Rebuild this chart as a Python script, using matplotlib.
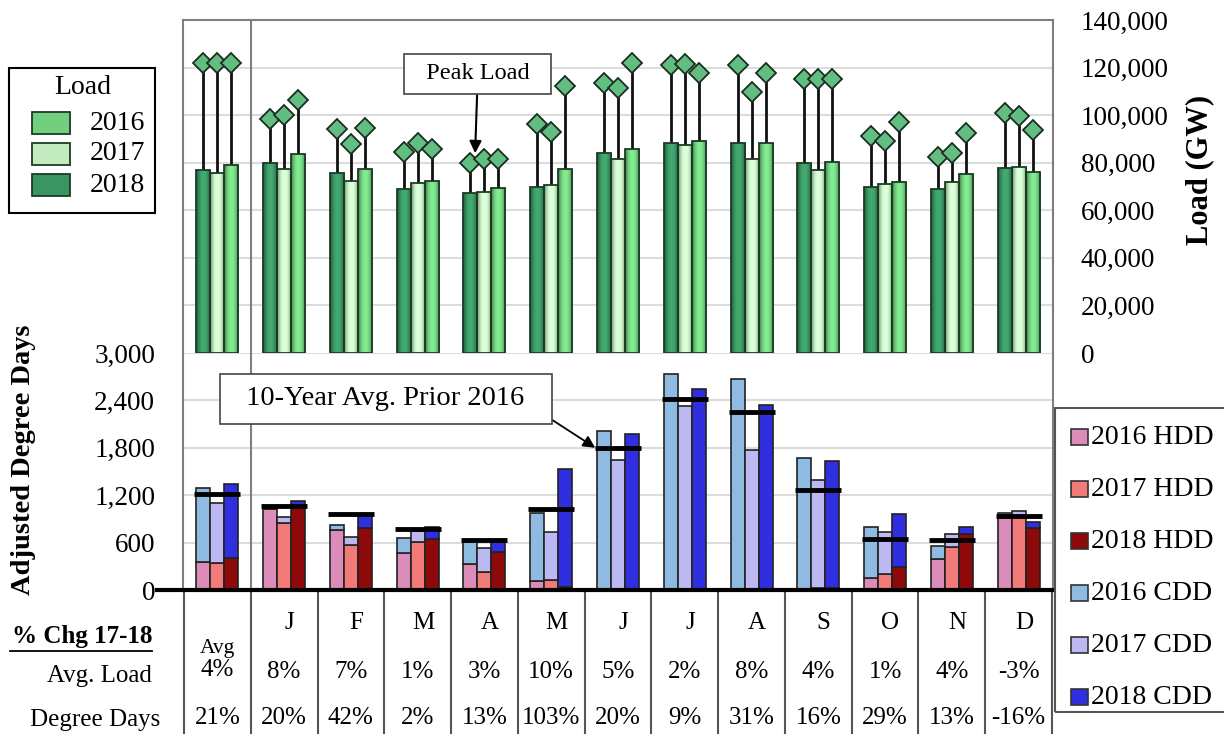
import matplotlib
matplotlib.use("Agg")
import matplotlib.pyplot as plt
from matplotlib.patches import Rectangle
from matplotlib.colors import to_rgb
import numpy as np

plt.rcParams["font.family"] = ["Liberation Serif", "DejaVu Serif"]

groups = ["Avg", "J", "F", "M", "A", "M", "J", "J", "A", "S", "O", "N", "D"]

# average load (GW), bar order left to right in each group
load_a = [76900, 79900, 75700, 68900, 67300, 69800, 84100, 88300, 88300, 79900, 69800, 68900, 77800]
load_b = [75700, 77400, 72300, 71500, 67700, 70600, 81500, 87500, 81600, 76900, 71000, 71900, 78200]
load_c = [79000, 83700, 77400, 72300, 69400, 77400, 85800, 89100, 88300, 80300, 71900, 75300, 76100]

# peak load (GW)
peak_a = [121900, 98400, 94200, 84500, 79900, 96300, 113500, 121100, 121100, 115200, 91200, 82400, 100900]
peak_b = [121900, 100000, 87900, 88300, 81600, 92900, 111400, 121500, 109700, 115200, 89100, 84100, 99600]
peak_c = [122000, 106400, 94600, 85800, 81600, 112200, 121900, 117700, 117700, 115200, 97100, 92500, 93700]

# adjusted degree days
hdd_2016 = [355, 1020, 760, 469, 330, 114, 10, 0, 0, 10, 152, 393, 913]
hdd_2017 = [342, 850, 570, 609, 228, 127, 10, 0, 0, 20, 203, 545, 938]
hdd_2018 = [406, 1065, 786, 647, 482, 38, 0, 0, 0, 20, 292, 710, 786]
cdd_2016 = [938, 20, 64, 190, 279, 862, 2006, 2739, 2675, 1664, 647, 165, 63]
cdd_2017 = [761, 75, 102, 139, 304, 608, 1638, 2333, 1775, 1375, 532, 165, 63]
cdd_2018 = [938, 65, 152, 152, 127, 1496, 1978, 2549, 2346, 1616, 672, 89, 76]
ten_year_avg = [1217, 1065, 964, 773, 634, 1027, 1800, 2422, 2257, 1268, 647, 634, 938]

load_chg = ["4%", "8%", "7%", "1%", "3%", "10%", "5%", "2%", "8%", "4%", "1%", "4%", "-3%"]
dd_chg = ["21%", "20%", "42%", "2%", "13%", "103%", "20%", "9%", "31%", "16%", "29%", "13%", "-16%"]

W, H = 1224, 736
fig = plt.figure(figsize=(W / 100, H / 100), dpi=100)


def fx(px):
    return px / W


def fy(py):
    return 1 - py / H


def shade(ax, bars, color):
    # dark edges, lighter middle, like the gradient fill of the original
    t = np.linspace(0, 1, 32)
    k = 0.55 + 0.6 * np.sin(np.pi * t) ** 0.8
    rgb = np.clip(np.array(to_rgb(color))[None, :] * k[:, None], 0, 1)
    arr = rgb[None, :, :]
    for b in bars:
        x0, y0, w, h = b.get_x(), b.get_y(), b.get_width(), b.get_height()
        im = ax.imshow(arr, extent=[x0, x0 + w, y0, y0 + h], aspect="auto",
                       interpolation="bilinear", zorder=3.2)
        im.set_clip_path(b)


x = np.arange(len(groups))
bw = 0.21
offs = [-bw, 0, bw]
grid_c = "#dcdcdc"
frame_c = "#7f7f7f"

# ---------------- top: load ----------------
ax_top = fig.add_axes([fx(183), fy(353), fx(1053) - fx(183), fy(20) - fy(353)])
for yv in range(20000, 140001, 20000):
    ax_top.axhline(yv, color=grid_c, lw=1.5, zorder=0)
for s in ["top", "left", "right"]:
    ax_top.spines[s].set_color(frame_c)
    ax_top.spines[s].set_linewidth(1.5)
ax_top.spines["bottom"].set_visible(False)
ax_top.axvline(0.5, color=frame_c, lw=1.5)

load_cols = ["#3a9563", "#c2ebc0", "#72cf7e"]
for i, (lv, pv) in enumerate([(load_a, peak_a), (load_b, peak_b), (load_c, peak_c)]):
    xi = x + offs[i]
    bars = ax_top.bar(xi, lv, width=bw, color=load_cols[i], lw=0, zorder=3)
    shade(ax_top, bars, load_cols[i])
    ax_top.bar(xi, lv, width=bw, fill=False, edgecolor="#1c3b25", lw=1.3, zorder=3.4)
    ax_top.vlines(xi, lv, pv, color="#111111", lw=2, zorder=2)
    ax_top.plot(xi, pv, ls="none", marker="D", ms=10, mfc="#62bd80", mec="#1a2e20", mew=1.3, zorder=4)

ax_top.set_xlim(-0.515, 12.515)
ax_top.set_ylim(0, 140000)
ax_top.set_yticks(np.arange(0, 140001, 20000))
ax_top.set_yticklabels([f"{v:,}" for v in range(0, 140001, 20000)])
ax_top.yaxis.tick_right()
ax_top.tick_params(axis="y", length=0, pad=20, labelsize=19.5)
ax_top.set_xticks([])

ax_top.annotate("  Peak Load  ", xy=(3.86, 84000), xytext=(3.9, 117300),
                ha="center", va="center", fontsize=17.5,
                bbox=dict(boxstyle="square,pad=0.4", fc="white", ec="#444444", lw=1.2),
                arrowprops=dict(arrowstyle="-|>", color="black", lw=1.5, mutation_scale=18,
                                shrinkA=0, shrinkB=0))
fig.text(fx(1200), fy(170), "Load (GW)", rotation=90, ha="center", va="center",
         fontsize=22, fontweight="bold")

# ---------------- bottom: degree days ----------------
ax_bot = fig.add_axes([fx(183), fy(590), fx(1053) - fx(183), fy(353) - fy(590)])
for yv in range(600, 3001, 600):
    ax_bot.axhline(yv, color=grid_c, lw=1.5, zorder=0)
for s in ["left", "right"]:
    ax_bot.spines[s].set_color(frame_c)
    ax_bot.spines[s].set_linewidth(1.5)
ax_bot.spines["top"].set_visible(False)
ax_bot.spines["bottom"].set_visible(False)
ax_bot.axvline(0.5, color=frame_c, lw=1.5)

hdd_cols = ["#dc8cb8", "#f27a78", "#8e0a0a"]
cdd_cols = ["#8fbbe3", "#bcb9f2", "#2f2fe0"]
for i, (hv, cv) in enumerate([(hdd_2016, cdd_2016), (hdd_2017, cdd_2017), (hdd_2018, cdd_2018)]):
    xi = x + offs[i]
    ax_bot.bar(xi, hv, width=bw, color=hdd_cols[i], edgecolor="#222222", lw=1.2, zorder=3)
    ax_bot.bar(xi, cv, bottom=hv, width=bw, color=cdd_cols[i], edgecolor="#222222", lw=1.2, zorder=3)
ax_bot.hlines(ten_year_avg, x - 0.345, x + 0.345, color="black", lw=3.5, zorder=5)

ax_bot.set_xlim(-0.515, 12.515)
ax_bot.set_ylim(0, 3000)
ax_bot.set_yticks(np.arange(0, 3001, 600))
ax_bot.set_yticklabels([f"{v:,}" for v in range(0, 3001, 600)])
ax_bot.tick_params(axis="y", length=0, pad=20, labelsize=19.5)
ax_bot.set_xticks([])

ax_bot.annotate("  10-Year Avg. Prior 2016  ", xy=(5.66, 1800), xytext=(2.52, 2420),
                ha="center", va="center", fontsize=20.5,
                bbox=dict(boxstyle="square,pad=0.45", fc="white", ec="#444444", lw=1.2),
                arrowprops=dict(arrowstyle="-|>", color="black", lw=1.3, mutation_scale=18,
                                relpos=(1.0, 0.0), shrinkA=0, shrinkB=0))

fig.text(fx(24), fy(460), "Adjusted Degree Days", rotation=90, ha="center", va="center",
         fontsize=20.5, fontweight="bold")

# zero line and table
ax_bot.plot([-0.03, 1.0], [0, 0], color="black", lw=3, transform=ax_bot.get_yaxis_transform(),
            clip_on=False, zorder=6)
tr = ax_bot.get_xaxis_transform()


def ay(py):
    return (590 - py) / 237


for k in range(len(groups) + 1):
    ax_bot.plot([k - 0.5, k - 0.5], [0, ay(733)], color="#555555", lw=1.5, transform=tr, clip_on=False)

for k, g in enumerate(groups):
    if k == 0:
        ax_bot.text(k, ay(648), "Avg", transform=tr, ha="center", va="center", fontsize=15.5)
        ax_bot.text(k, ay(670), load_chg[k], transform=tr, ha="center", va="center", fontsize=18)
    else:
        ax_bot.text(k + 0.08, ay(623), g, transform=tr, ha="center", va="center", fontsize=18)
        ax_bot.text(k, ay(672), load_chg[k], transform=tr, ha="center", va="center", fontsize=18)
    ax_bot.text(k, ay(718), dd_chg[k], transform=tr, ha="center", va="center", fontsize=18)

fig.text(fx(152), fy(636), "% Chg 17-18", ha="right", va="center", fontsize=18,
         fontweight="bold")
fig.add_artist(plt.Line2D([fx(10), fx(152)], [fy(651), fy(651)], color="black", lw=1.3))
fig.text(fx(152), fy(676), "Avg. Load", ha="right", va="center", fontsize=18)
fig.text(fx(160), fy(720), "Degree Days", ha="right", va="center", fontsize=18)

# ---------------- left legend (load) ----------------
fig.add_artist(Rectangle((fx(9), fy(213)), fx(155) - fx(9), fy(68) - fy(213),
                         transform=fig.transFigure, fill=False, ec="black", lw=1.5))
fig.text(fx(83), fy(88), "Load", ha="center", va="center", fontsize=20)
leg_load = [("2016", "#72cf7e", 123), ("2017", "#c2ebc0", 154), ("2018", "#3a9563", 185)]
for lab, col, yc in leg_load:
    fig.add_artist(Rectangle((fx(32), fy(yc + 11)), fx(70) - fx(32), fy(yc - 11) - fy(yc + 11),
                             transform=fig.transFigure, fc=col, ec="#1c3b25", lw=1.3))
    fig.text(fx(90), fy(yc), lab, ha="left", va="center", fontsize=20)

# ---------------- right legend (degree days) ----------------
fig.add_artist(Rectangle((fx(1055), fy(712)), fx(1240) - fx(1055), fy(408) - fy(712),
                         transform=fig.transFigure, fill=False, ec="#555555", lw=1.5,
                         clip_on=False))
leg_dd = [("2016 HDD", hdd_cols[0]), ("2017 HDD", hdd_cols[1]), ("2018 HDD", hdd_cols[2]),
          ("2016 CDD", cdd_cols[0]), ("2017 CDD", cdd_cols[1]), ("2018 CDD", cdd_cols[2])]
for j, (lab, col) in enumerate(leg_dd):
    yc = 437 + j * 52
    fig.add_artist(Rectangle((fx(1071), fy(yc + 8)), fx(1088) - fx(1071), fy(yc - 8) - fy(yc + 8),
                             transform=fig.transFigure, fc=col, ec="#333333", lw=1.2))
    fig.text(fx(1091), fy(yc), lab, ha="left", va="center", fontsize=20)

fig.savefig("out.png", dpi=100)
